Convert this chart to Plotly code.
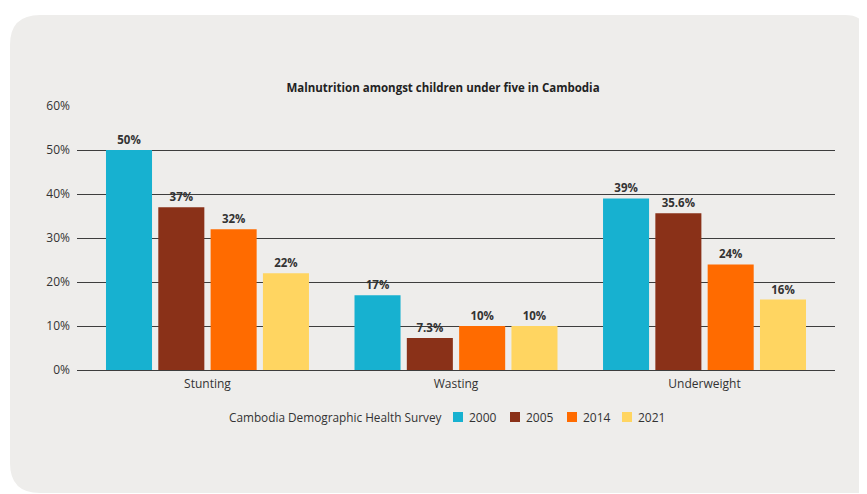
import plotly.graph_objects as go

categories = ["Stunting", "Wasting", "Underweight"]
years = ["2000", "2005", "2014", "2021"]
values_2000 = [50, 17, 39]
values_2005 = [37, 7.3, 35.6]
values_2014 = [32, 10, 24]
values_2021 = [22, 10, 16]
labels_2000 = ["50%", "17%", "39%"]
labels_2005 = ["37%", "7.3%", "35.6%"]
labels_2014 = ["32%", "10%", "24%"]
labels_2021 = ["22%", "10%", "16%"]
y_ticks = [0, 10, 20, 30, 40, 50, 60]
y_ticklabels = ["0%", "10%", "20%", "30%", "40%", "50%", "60%"]
legend_title = "Cambodia Demographic Health Survey"

colors = ["#17B1D0", "#8A3118", "#FF6B00", "#FFD561"]
series = [values_2000, values_2005, values_2014, values_2021]
labels = [labels_2000, labels_2005, labels_2014, labels_2021]

OFF = 8  # page body margin
W, H = 867 - OFF, 494 - OFF
# plot area in screen pixels: x 77..835, y 106..370
L, R = 77 - OFF, 867 - 835
T, B = 106 - OFF, 494 - 370
PW, PH = W - L - R, H - T - B

def px(sx):
    return (sx - OFF - L) / PW

def py(sy):
    return (H - B - (sy - OFF)) / PH

FONT = "Open Sans"
TXT = "#333333"

fig = go.Figure()
for yr, vals, labs, col in zip(years, series, labels, colors):
    fig.add_trace(go.Bar(
        name=yr, x=categories, y=vals, text=labs,
        textposition="outside", cliponaxis=False, showlegend=False,
        marker=dict(color=col, line=dict(width=0)),
        textfont=dict(family=FONT, size=11.5, color=TXT, weight="bold"),
    ))

# rounded panel background (screen coords)
x0, x1, y0, y1, r = 10, 900, 15, 493, 30
path = (
    f"M {px(x0+r)},{py(y0)} L {px(x1-r)},{py(y0)} "
    f"Q {px(x1)},{py(y0)} {px(x1)},{py(y0+r)} "
    f"L {px(x1)},{py(y1-r)} Q {px(x1)},{py(y1)} {px(x1-r)},{py(y1)} "
    f"L {px(x0+r)},{py(y1)} Q {px(x0)},{py(y1)} {px(x0)},{py(y1-r)} "
    f"L {px(x0)},{py(y0+r)} Q {px(x0)},{py(y0)} {px(x0+r)},{py(y0)} Z"
)
xc0, yc0, rc = 845, 15, 22
corner = (
    f"M {px(xc0)},{py(yc0)} Q {px(xc0+rc)},{py(yc0)} {px(xc0+rc)},{py(yc0+rc)} "
    f"L {px(xc0+rc+20)},{py(yc0+rc)} L {px(xc0+rc+20)},{py(yc0-5)} Z"
)
shapes = [dict(type="path", path=path, xref="paper", yref="paper",
               fillcolor="#EEEDEB", line=dict(width=0), layer="below"),
          dict(type="path", path=corner, xref="paper", yref="paper",
               fillcolor="white", line=dict(width=0), layer="below")]

# custom legend (screen coords)
leg_y = 417
leg_sq_x = [453, 510, 567, 622]
annotations = [dict(text=legend_title, x=px(227), y=py(leg_y), xref="paper", yref="paper",
                    xanchor="left", yanchor="middle", showarrow=False,
                    font=dict(family=FONT, size=11.8, color=TXT))]
for yr, col, sx in zip(years, colors, leg_sq_x):
    shapes.append(dict(type="rect", xref="paper", yref="paper",
                       x0=px(sx), x1=px(sx + 10), y0=py(leg_y - 5), y1=py(leg_y + 5),
                       fillcolor=col, line=dict(width=0)))
    annotations.append(dict(text=yr, x=px(sx + 14), y=py(leg_y), xref="paper", yref="paper",
                            xanchor="left", yanchor="middle", showarrow=False,
                            font=dict(family=FONT, size=12, color=TXT)))

fig.update_layout(
    width=W, height=H,
    margin=dict(l=L, r=R, t=T, b=B, autoexpand=False),
    paper_bgcolor="white",
    plot_bgcolor="rgba(0,0,0,0)",
    font=dict(family=FONT, size=12, color=TXT),
    barmode="group", bargap=0.158, bargroupgap=0.12,
    shapes=shapes, annotations=annotations, showlegend=False,
    title=dict(text="<b>Malnutrition amongst children under five in Cambodia</b>",
               x=px(443), xref="paper", xanchor="center",
               y=1 - (88 - OFF) / H, yref="container", yanchor="middle",
               font=dict(family=FONT, size=11.5, color="#222222")),
    xaxis=dict(range=[-0.525, 2.525], showgrid=False, showline=False,
               ticks="", ticklabelstandoff=5,
               tickfont=dict(family=FONT, size=12, color=TXT)),
    yaxis=dict(range=[0, 60], tickvals=y_ticks, ticktext=y_ticklabels,
               showgrid=True, gridcolor="#3d3d3d", gridwidth=1,
               zeroline=True, zerolinecolor="#3d3d3d", zerolinewidth=1,
               showline=False, ticks="", ticklabelstandoff=6,
               tickfont=dict(family=FONT, size=12, color=TXT)),
)

fig.write_html("out.html")
